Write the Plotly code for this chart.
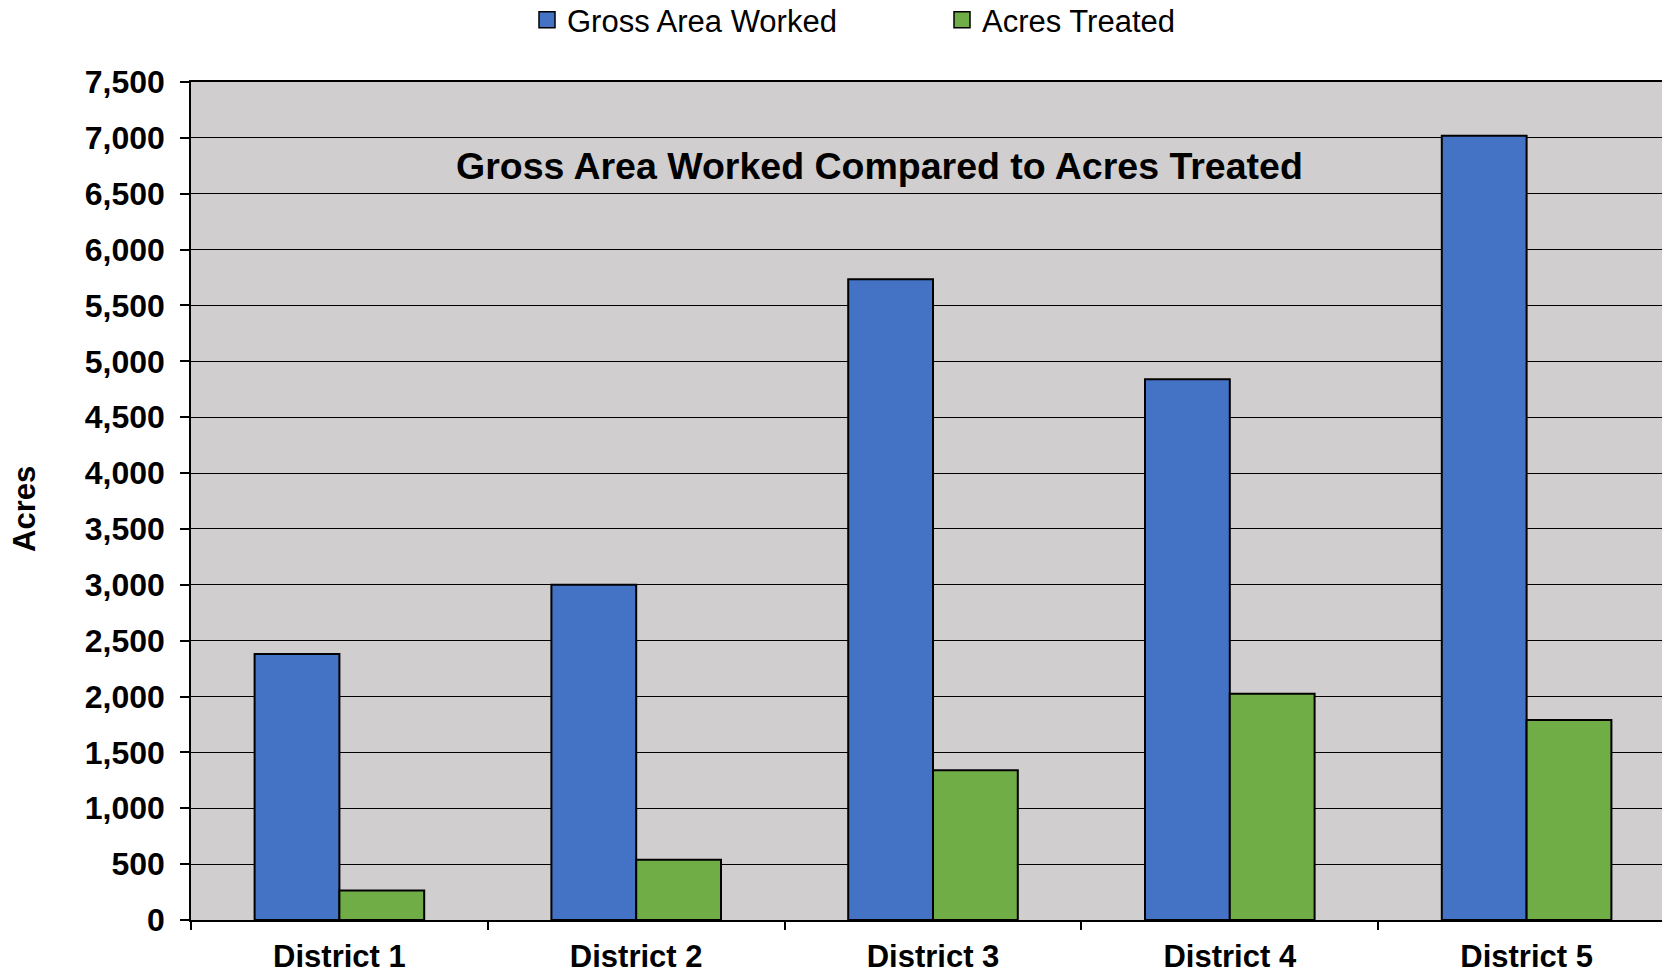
import plotly.graph_objects as go

districts = ["District 1", "District 2", "District 3", "District 4", "District 5"]
gross_area_worked = [2380, 3000, 5735, 4840, 7020]
acres_treated = [265, 540, 1340, 2025, 1790]
y_ticks = list(range(0, 7501, 500))
series_names = ["Gross Area Worked", "Acres Treated"]
series_colors = ["#4472C4", "#70AD47"]

FONT = "Liberation Sans, Arial, sans-serif"

fig = go.Figure()
for name, vals, col in zip(series_names, [gross_area_worked, acres_treated], series_colors):
    fig.add_trace(go.Bar(
        name=name, x=districts, y=vals, showlegend=False, legendgroup=name,
        marker=dict(color=col, line=dict(color="#000000", width=2)),
    ))
# legend keys (larger square swatches like the reference)
for name, col in zip(series_names, series_colors):
    fig.add_trace(go.Scatter(
        name=name, x=[None], y=[None], mode="markers", legendgroup=name,
        marker=dict(symbol="square", size=16, color=col, line=dict(color="#000000", width=1.5)),
        hoverinfo="skip",
    ))

W, H = 1662, 974
ml, mt, mb = 191, 82, 54
pw = W - ml
ph = H - mt - mb
cat_px = 296.8

fig.update_layout(
    width=W, height=H,
    margin=dict(l=ml, r=0, t=mt, b=mb, pad=0, autoexpand=False),
    paper_bgcolor="#FFFFFF",
    plot_bgcolor="#D0CECF",
    barmode="group",
    bargap=0.4286,
    bargroupgap=0,
    font=dict(family=FONT, color="#000000"),
    legend=dict(
        orientation="h",
        x=(527 - ml) / pw, xanchor="left",
        y=(920 - 20) / ph, yanchor="middle",
        font=dict(family=FONT, size=31, color="#000000"),
        entrywidth=370,
        itemsizing="trace",
        bgcolor="rgba(0,0,0,0)",
    ),
    xaxis=dict(
        type="category",
        range=[-0.5, -0.5 + pw / cat_px],
        automargin=False,
        showgrid=False,
        showline=True, linecolor="#000000", linewidth=1.5,
        mirror=True,
        ticks="outside", tickson="boundaries", ticklen=8, tickcolor="#000000", tickwidth=1.5,
        tickfont=dict(family=FONT, size=31, weight="bold", color="#000000"),
        ticklabelstandoff=8,
        fixedrange=True,
    ),
    yaxis=dict(
        range=[0, 7500],
        automargin=False,
        tickvals=y_ticks,
        tickformat=",",
        showgrid=True, gridcolor="#000000", gridwidth=1,
        showline=True, linecolor="#000000", linewidth=1.5,
        ticks="outside", ticklen=9, tickcolor="#000000", tickwidth=1.5,
        tickfont=dict(family=FONT, size=32, weight="bold", color="#000000"),
        ticklabelstandoff=9,
        zeroline=False,
        fixedrange=True,
    ),
)

fig.add_annotation(
    text="Gross Area Worked Compared to Acres Treated",
    xref="paper", yref="paper",
    x=(879 - ml) / pw, y=(920 - 166) / ph,
    xanchor="center", yanchor="middle", showarrow=False,
    font=dict(family=FONT, size=37.5, weight="bold", color="#000000"),
)
fig.add_annotation(
    text="Acres",
    xref="paper", yref="paper",
    x=(24 - ml) / pw, y=(920 - 509) / ph,
    xanchor="center", yanchor="middle", showarrow=False, textangle=-90,
    font=dict(family=FONT, size=31, weight="bold", color="#000000"),
)

fig.write_html(
    "out.html",
    config={"displayModeBar": False},
    post_script="document.body.style.margin='0';document.body.style.overflow='hidden';",
)
